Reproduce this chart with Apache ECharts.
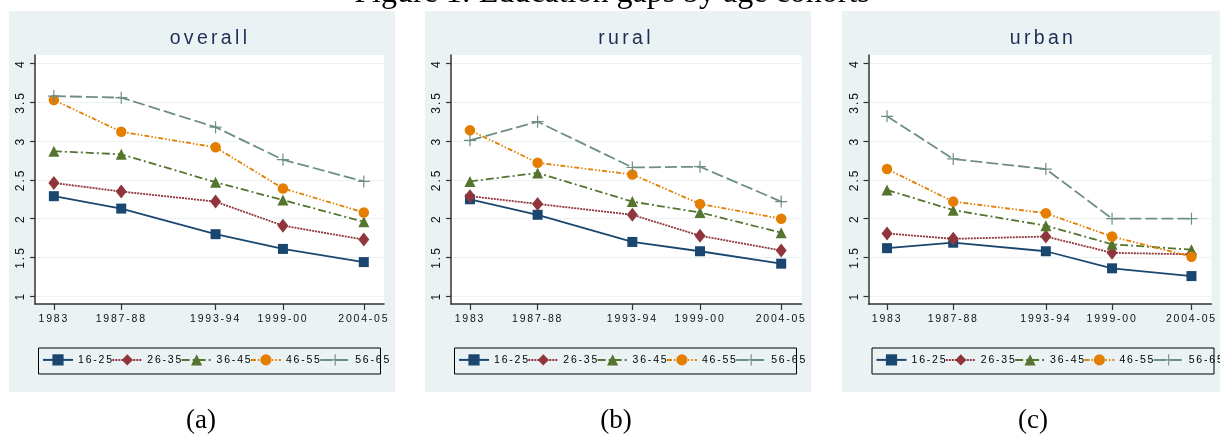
<!DOCTYPE html>
<html>
<head>
<meta charset="utf-8">
<script src="https://cdn.jsdelivr.net/npm/echarts@6/dist/echarts.min.js"></script>
<style>
html,body{margin:0;padding:0;background:#fff;}
#chart{width:1220px;height:436px;}
</style>
</head>
<body>
<div id="chart"></div>
<script>
// ---------------- data ----------------
const figureTitle = 'Figure 1: Education gaps by age cohorts';
const panelTitles = ['overall', 'rural', 'urban'];
const captions = ['(a)', '(b)', '(c)'];
const cohorts = ['16-25', '26-35', '36-45', '46-55', '56-65'];
// survey rounds (x positions of the periods)
const rounds = [38, 43, 50, 55, 61];
const periodLabels = ['1983', '1987-88', '1993-94', '1999-00', '2004-05'];
const yTicks = [1, 1.5, 2, 2.5, 3, 3.5, 4];

const overall_16_25 = [2.29, 2.13, 1.80, 1.61, 1.44];
const overall_26_35 = [2.46, 2.35, 2.22, 1.91, 1.73];
const overall_36_45 = [2.87, 2.83, 2.47, 2.24, 1.96];
const overall_46_55 = [3.53, 3.12, 2.92, 2.39, 2.08];
const overall_56_65 = [3.58, 3.56, 3.18, 2.76, 2.48];

const rural_16_25 = [2.25, 2.05, 1.70, 1.58, 1.42];
const rural_26_35 = [2.29, 2.19, 2.05, 1.78, 1.59];
const rural_36_45 = [2.48, 2.59, 2.22, 2.08, 1.82];
const rural_46_55 = [3.14, 2.72, 2.57, 2.19, 2.00];
const rural_56_65 = [3.01, 3.25, 2.66, 2.67, 2.22];

const urban_16_25 = [1.62, 1.69, 1.58, 1.36, 1.26];
const urban_26_35 = [1.81, 1.74, 1.77, 1.56, 1.54];
const urban_36_45 = [2.37, 2.11, 1.91, 1.67, 1.60];
const urban_46_55 = [2.64, 2.22, 2.07, 1.77, 1.51];
const urban_56_65 = [3.32, 2.77, 2.64, 2.00, 2.00];

const panelData = [
  [overall_16_25, overall_26_35, overall_36_45, overall_46_55, overall_56_65],
  [rural_16_25, rural_26_35, rural_36_45, rural_46_55, rural_56_65],
  [urban_16_25, urban_26_35, urban_36_45, urban_46_55, urban_56_65]
];

// ---------------- letter-spaced sans text (Stata look) ----------------
(function () {
  const P = CanvasRenderingContext2D.prototype;
  if (!('letterSpacing' in P)) return;
  const ls = function (font) {
    if (!/sans/i.test(font) && /serif/i.test(font)) return '0px';
    const m = /([\d.]+)px/.exec(font);
    return m ? (parseFloat(m[1]) * 0.17).toFixed(2) + 'px' : '0px';
  };
  ['fillText', 'strokeText', 'measureText'].forEach(function (name) {
    const orig = P[name];
    P[name] = function () {
      const prev = this.letterSpacing;
      this.letterSpacing = ls(this.font);
      try { return orig.apply(this, arguments); }
      finally { this.letterSpacing = prev; }
    };
  });
})();

// ---------------- styles ----------------
const SANS = 'Liberation Sans';
const SERIF = 'Liberation Serif';
const BG = '#eaf2f3';
const colors = ['#1a476f', '#90353b', '#55752f', '#e37e00', '#6e8e84'];
const symbols = ['rect', 'diamond', 'triangle', 'circle',
  'path://M4.5,0h1v4.5h4.5v1h-4.5v4.5h-1v-4.5h-4.5v-1h4.5z'];
const symbolSizes = [10, [11, 14], 11, 10.5, 12];
const lineTypes = ['solid', [2, 1], [8, 3, 2, 3], [5, 2, 1.5, 2, 1.5, 2], [12, 4]];

const panels = [
  { bgLeft: 9,   gridLeft: 35,    gridWidth: 349,   titleX: 210,  capX: 201 },
  { bgLeft: 425, gridLeft: 451,   gridWidth: 350.5, titleX: 626,  capX: 616 },
  { bgLeft: 842, gridLeft: 868.5, gridWidth: 349.5, titleX: 1043, capX: 1033 }
];

const grid = [], xAxis = [], yAxis = [], series = [], legend = [], graphic = [];

graphic.push({
  type: 'text', z: 10,
  style: { text: figureTitle, x: 612, y: -6, align: 'center', verticalAlign: 'middle',
    font: '32px "' + SERIF + '"', fill: '#000' }
});

panels.forEach(function (p, i) {
  graphic.push({
    type: 'rect', z: -10, silent: true,
    shape: { x: p.bgLeft, y: 11, width: 386, height: 381 },
    style: { fill: BG }
  });
  graphic.push({
    type: 'text', z: 10,
    style: { text: panelTitles[i], x: p.titleX, y: 38.5, align: 'center', verticalAlign: 'middle',
      font: '19.5px "' + SANS + '"', fill: '#1e2d59' }
  });
  graphic.push({
    type: 'text', z: 10,
    style: { text: captions[i], x: p.capX, y: 421, align: 'center', verticalAlign: 'middle',
      font: '27px "' + SERIF + '"', fill: '#000' }
  });
  graphic.push({
    type: 'rect', z: 10, silent: true,
    shape: { x: p.gridLeft + 3.5, y: 348, width: 342, height: 26 },
    style: { fill: 'none', stroke: '#000', lineWidth: 1 }
  });

  grid.push({
    left: p.gridLeft, top: 55, width: p.gridWidth, height: 249,
    show: true, backgroundColor: '#fff', borderWidth: 0
  });
  xAxis.push({
    type: 'value', gridIndex: i, min: 36.6, max: 62.5,
    axisLine: { show: true, onZero: false, lineStyle: { color: '#333', width: 1.5 } },
    axisTick: { show: true, length: 6, customValues: rounds, lineStyle: { color: '#333', width: 1.2 } },
    axisLabel: {
      customValues: rounds, margin: 9, color: '#111', fontSize: 10.5, fontFamily: SANS,
      formatter: function (v) { const k = rounds.indexOf(v); return k >= 0 ? periodLabels[k] : ''; }
    },
    splitLine: { show: false }
  });
  yAxis.push({
    type: 'value', gridIndex: i, min: 0.9, max: 4.11,
    axisLine: { show: true, onZero: false, lineStyle: { color: '#333', width: 1.5 } },
    axisTick: { show: true, length: 5, customValues: yTicks, lineStyle: { color: '#333', width: 1.2 } },
    axisLabel: {
      customValues: yTicks, rotate: 90, margin: 7, color: '#111',
      textStyle: { fontSize: 12 }, fontSize: 12, fontFamily: SANS,
      formatter: function (v) { return String(v); }
    },
    splitLine: { show: true, lineStyle: { color: BG, width: 1 } }
  });

  cohorts.forEach(function (c, j) {
    series.push({
      type: 'line', name: c, xAxisIndex: i, yAxisIndex: i,
      data: rounds.map(function (r, k) { return [r, panelData[i][j][k]]; }),
      symbol: symbols[j], symbolSize: symbolSizes[j], showAllSymbol: true,
      itemStyle: { color: colors[j], borderWidth: 0 },
      lineStyle: { color: colors[j], width: 1.8, type: lineTypes[j] },
      emphasis: { disabled: true },
      z: 2 + j
    });
  });

  legend.push({
    data: cohorts, left: p.gridLeft + 7, top: 353.5, width: 600, padding: 0,
    itemWidth: 30, itemHeight: 14, itemGap: -2.5, orient: 'horizontal',
    selectedMode: false,
    textStyle: { fontSize: 10.5, fontFamily: SANS, color: '#000' }
  });
});

const chart = echarts.init(document.getElementById('chart'), null, { renderer: 'canvas' });
chart.setOption({
  backgroundColor: '#fff',
  animation: false,
  grid: grid, xAxis: xAxis, yAxis: yAxis, series: series, legend: legend, graphic: graphic
});
</script>
</body>
</html>
